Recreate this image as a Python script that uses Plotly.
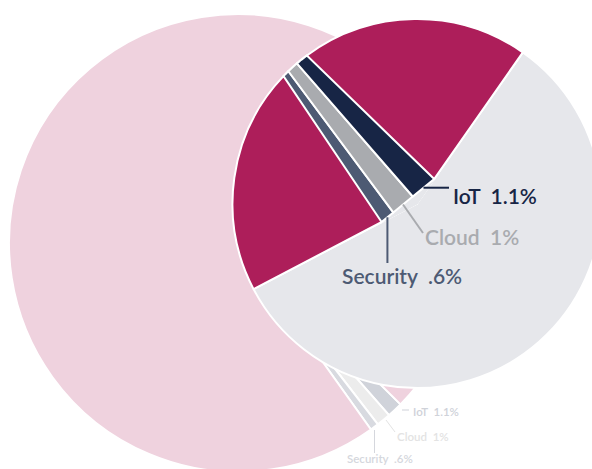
import math
import plotly.graph_objects as go

# ---------------- data ----------------
main_labels = ["Other", "Segment A", "Security", "Cloud", "IoT", "Segment B"]
main_values = [57.6, 19.8, 0.6, 1.0, 1.1, 19.9]
main_colors = ["#e6e7eb", "#ad1e5a", "#4d5a73", "#a9abaf", "#172545", "#ad1e5a"]

bg_labels = ["IoT", "Cloud", "Security", "Rest"]
bg_values = [1.1, 1.0, 0.6, 97.3]
bg_colors = ["#d0d3da", "#ececec", "#d8dae0", "#efd2de"]

callout_labels = ["IoT", "Cloud", "Security"]
callout_pct = ["1.1%", "1%", ".6%"]
main_text_colors = ["#172545", "#a9abaf", "#4d5a73"]
bg_text_colors = ["#cfd2d9", "#e3e3e3", "#d5d7dd"]

# ---------------- layout helpers ----------------
W, H = 604, 474
MAIN_CX, MAIN_CY, MAIN_R, MAIN_ROT = 417, 203.5, 184.5, 35
BG_CX, BG_CY, BG_R, BG_ROT = 238, 243, 229, 134.8


def px(x):
    return x / W


def py(y):
    return 1 - y / H


def dom(cx, cy, r):
    return dict(x=[px(cx - r), px(cx + r)], y=[py(cy + r), py(cy - r)])


def dirv(deg):
    a = math.radians(deg)
    return math.sin(a), -math.cos(a)


def path(pts):
    s = "M " + " L ".join(f"{px(x):.5f},{py(y):.5f}" for x, y in pts)
    return s + " Z"


fig = go.Figure()

# background (faded) pie
fig.add_trace(go.Pie(
    labels=bg_labels, values=bg_values, sort=False, direction="clockwise",
    rotation=BG_ROT, textinfo="none", hoverinfo="skip", showlegend=False,
    marker=dict(colors=bg_colors, line=dict(color="white", width=2)),
    domain=dom(BG_CX, BG_CY, BG_R),
))

# main pie
fig.add_trace(go.Pie(
    labels=main_labels, values=main_values, sort=False, direction="clockwise",
    rotation=MAIN_ROT, textinfo="none", hoverinfo="skip", showlegend=False,
    marker=dict(colors=main_colors, line=dict(color="white", width=2)),
    domain=dom(MAIN_CX, MAIN_CY, MAIN_R),
))

# slice angles of the main pie (from the data)
total = sum(main_values)
starts, ends = [], []
a = MAIN_ROT
for v in main_values:
    starts.append(a)
    a += 360 * v / total
    ends.append(a)

# small slices drawn as widening stripes (styling of the original graphic)
small_idx = [main_labels.index(n) for n in ["Security", "Cloud", "IoT"]]
dA = dirv(ends[0])
dB = dirv(starts[0])
A = (MAIN_CX + 40 * dA[0], MAIN_CY + 40 * dA[1])
B = (MAIN_CX + 30 * dB[0], MAIN_CY + 30 * dB[1])
small_total = sum(main_values[i] for i in small_idx)

shapes = []
# grey area under stripe ends
shapes.append(dict(type="path", xref="paper", yref="paper", layer="above",
                   path=path([A, B, (MAIN_CX, MAIN_CY)]),
                   fillcolor=main_colors[0], line=dict(color=main_colors[0], width=2)))

band_ends = {}
acc = 0.0
for i in small_idx:
    f0 = acc / small_total
    acc += main_values[i]
    f1 = acc / small_total
    p0 = (A[0] + f0 * (B[0] - A[0]), A[1] + f0 * (B[1] - A[1]))
    p1 = (A[0] + f1 * (B[0] - A[0]), A[1] + f1 * (B[1] - A[1]))
    arc = []
    n = 8
    for k in range(n + 1):
        ang = starts[i] + (ends[i] - starts[i]) * k / n
        d = dirv(ang)
        arc.append((MAIN_CX + MAIN_R * d[0], MAIN_CY + MAIN_R * d[1]))
    shapes.append(dict(type="path", xref="paper", yref="paper", layer="above",
                       path=path([p0] + arc + [p1]),
                       fillcolor=main_colors[i], line=dict(color="white", width=2)))
    band_ends[main_labels[i]] = ((p0[0] + p1[0]) / 2, (p0[1] + p1[1]) / 2)

# callouts
ie = band_ends["IoT"]
ce = band_ends["Cloud"]
se = band_ends["Security"]
main_lines = [((ie[0], ie[1]), (449, ie[1])),
              ((ce[0], ce[1]), (423, 233)),
              ((se[0], se[1]), (se[0], 263))]
main_text_pos = [(451, 195), (423, 236.5), (340, 275)]
bg_lines = [((402, 410), (409, 410)), ((386, 420), (395, 432)), ((374.5, 430), (374.5, 453))]
bg_text_pos = [(411, 411.5), (395, 436.5), (345, 458)]

annotations = []
for i, lab in enumerate(callout_labels):
    (x0, y0), (x1, y1) = main_lines[i]
    shapes.append(dict(type="line", xref="paper", yref="paper", layer="above",
                       x0=px(x0), y0=py(y0), x1=px(x1), y1=py(y1),
                       line=dict(color=main_text_colors[i], width=2)))
    tx, ty = main_text_pos[i]
    annotations.append(dict(xref="paper", yref="paper", x=px(tx), y=py(ty),
                            xanchor="left", yanchor="middle", showarrow=False,
                            text=f"{lab}&nbsp; {callout_pct[i]}",
                            font=dict(family="Lato", size=21, weight=600,
                                      color=main_text_colors[i])))
    (x0, y0), (x1, y1) = bg_lines[i]
    shapes.append(dict(type="line", xref="paper", yref="paper", layer="above",
                       x0=px(x0), y0=py(y0), x1=px(x1), y1=py(y1),
                       line=dict(color=bg_text_colors[i], width=1)))
    tx, ty = bg_text_pos[i]
    annotations.append(dict(xref="paper", yref="paper", x=px(tx), y=py(ty),
                            xanchor="left", yanchor="middle", showarrow=False,
                            text=f"{lab}&nbsp; {callout_pct[i]}",
                            font=dict(family="Lato", size=11.5, weight=600,
                                      color=bg_text_colors[i])))

fig.update_layout(
    width=W, height=H, margin=dict(l=0, r=0, t=0, b=0, pad=0),
    paper_bgcolor="white", plot_bgcolor="white",
    shapes=shapes, annotations=annotations, showlegend=False,
)

fig.write_html(
    "out.html",
    config={"displayModeBar": False},
    post_script="document.documentElement.style.overflow='hidden';document.body.style.overflow='hidden';document.body.style.margin='0';",
)
